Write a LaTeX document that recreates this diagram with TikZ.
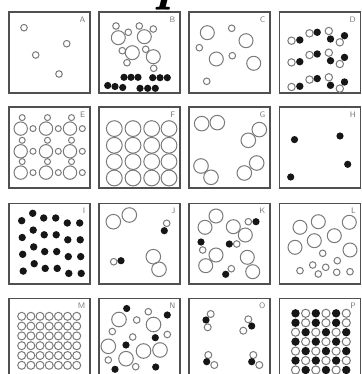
\documentclass[tikz,border=0pt]{standalone}
\usepackage{xcolor}
\usepackage{tikz}
\definecolor{frameGrey}{HTML}{505050}
\definecolor{atomGrey}{HTML}{7A7A7A}
\definecolor{dotBlack}{HTML}{161616}
\definecolor{labelGrey}{HTML}{7A7A7A}

\begin{document}
\begin{tikzpicture}[
    x=1pt, y=-1pt,
    panel/.style={draw=frameGrey, line width=1.6pt},
    lbl/.style={anchor=north east, inner sep=0pt, text=labelGrey, font=\sffamily\fontsize{8}{8}\selectfont},
    sm/.style={draw=atomGrey, line width=1pt, radius=3.3pt},
    lg/.style={sm, radius=7pt},
    bk/.style={fill=dotBlack, radius=3.6pt}
]
\useasboundingbox (0,0) rectangle (361,374);

% cut-off caption letter
\node[anchor=base, inner sep=0pt, font=\bfseries\itshape\fontsize{60}{60}\selectfont] (capP) at (172,-1) {p};

% Frames and letters
\foreach \tag/\px/\py in {A/9/12.3, B/99/12.3, C/189/12.3, D/279.5/12.3,
                          E/9/107.3, F/99/107.3, G/189/107.3, H/279.5/107.3,
                          I/9/203.3, J/99/203.3, K/189/203.3, L/279.5/203.3,
                          M/9/298.3, N/99/298.3, O/189/298.3, P/279.5/298.3}
{
  \draw[panel] (\px,\py) rectangle ++(81,80.5);
  \node[lbl] (lbl\tag) at (\px+76.5,\py+4.5) {\tag};
}

% A
\begin{scope}[shift={(9,12.3)}]
  \foreach \x/\y in {15/15.4, 57.7/31.4, 26.7/42.7, 50/61.7} \draw[sm] (\x,\y) circle;
\end{scope}

% B
\begin{scope}[shift={(99,12.3)}]
  \foreach \x/\y in {19.3/25.4, 45.3/24.4, 33.3/40.4, 54.3/44.4} \draw[lg] (\x,\y) circle;
  \foreach \x/\y in {17/13.7, 29.3/20, 40.3/13.7, 54.3/16.7, 23.3/38.4, 28/50.4, 46.7/37, 54.7/56}
    \draw[sm] (\x,\y) circle;
  \foreach \x/\y in {25/65, 32/65, 39/65, 53.7/65.4, 61/65.4, 68.3/65.4,
                     8.7/73.2, 16/74.2, 23.7/75.2, 41/76, 48.7/76, 56.3/76}
    \fill[bk] (\x,\y) circle;
\end{scope}

% C
\begin{scope}[shift={(189,12.3)}]
  \foreach \x/\y in {18.3/20.4, 57/28.4, 27.3/46.7, 64.7/51} \draw[lg] (\x,\y) circle;
  \foreach \x/\y in {42.7/16, 10.3/35.4, 43.3/43.4, 17.7/69} \draw[sm] (\x,\y) circle;
\end{scope}

% D
\begin{scope}[shift={(279.5,12.3)}]
  \foreach \dy in {0, 21.7, 46.3} {
    \foreach \x/\y in {12/28.4, 30/21, 49.3/18.7, 60.3/30} \draw[sm, radius=3.7pt] (\x,\y+\dy) circle;
    \foreach \x/\y in {20.3/27.7, 37.7/20, 51/26.7, 65/23.4} \fill[bk, radius=3.7pt] (\x,\y+\dy) circle;
  }
\end{scope}

% E
\begin{scope}[shift={(9,107.3)}]
  \foreach \cx in {11.7, 37, 61}
    \foreach \cy in {21.3, 44, 65.3} {
      \draw[lg, radius=6.7pt] (\cx,\cy) circle;
      \draw[sm, radius=3pt] (\cx+1.5,\cy-11) circle;
      \draw[sm, radius=3pt] (\cx+12.3,\cy) circle;
    }
\end{scope}

% F
\begin{scope}[shift={(99,107.3)}]
  \foreach \cx in {15.3, 34, 52.7, 70}
    \foreach \cy in {21.3, 38, 54.3, 70.7}
      \draw[lg, radius=7.9pt] (\cx,\cy) circle;
\end{scope}

% G
\begin{scope}[shift={(189,107.3)}]
  \foreach \x/\y in {12.7/16.3, 28.3/15.3, 70.3/22.3, 59.3/33, 12/58.7, 22/70, 67.7/55.7, 55.3/65.7}
    \draw[lg, radius=7.3pt] (\x,\y) circle;
\end{scope}

% H
\begin{scope}[shift={(279.5,107.3)}]
  \foreach \x/\y in {15/32.3, 60.5/28.7, 68.2/57, 11.2/69.7} \fill[bk] (\x,\y) circle;
\end{scope}

% I
\begin{scope}[shift={(9,203.3)}]
  \foreach \r in {0,...,3}
    \foreach \x/\y in {12.7/17.4, 23.7/10, 34.7/14.7, 46.7/14.7, 58.3/19.7, 70.7/19.7}
      \fill[bk, radius=3.7pt] (\x+0.5*\r,\y+16.8*\r) circle;
\end{scope}

% J
\begin{scope}[shift={(99,203.3)}]
  \foreach \x/\y in {14.3/18.4, 30.3/11.7, 54.3/53.4, 60/66} \draw[lg, radius=7.3pt] (\x,\y) circle;
  \foreach \x/\y in {67.7/20, 14.7/58.4} \draw[sm] (\x,\y) circle;
  \foreach \x/\y in {65.3/27.4, 22/57.4} \fill[bk] (\x,\y) circle;
\end{scope}

% K
\begin{scope}[shift={(189,203.3)}]
  \foreach \x/\y in {16/24, 27/12.7, 44.3/23.4, 56.3/31.7, 27/51.7, 16.7/62.4, 58.3/54, 63.7/68.4}
    \draw[lg] (\x,\y) circle;
  \foreach \x/\y in {59.3/18.4, 13.7/46.7, 47.7/40.7, 42.3/65.4} \draw[sm] (\x,\y) circle;
  \foreach \x/\y in {67/18.4, 12/38.7, 40.3/40.7, 36.7/71} \fill[bk] (\x,\y) circle;
\end{scope}

% L
\begin{scope}[shift={(279.5,203.3)}]
  \foreach \x/\y in {20.5/24, 38.8/18.4, 69.8/19, 34.8/37.4, 54.8/32.4, 15.5/44, 70.5/46.7}
    \draw[lg] (\x,\y) circle;
  \foreach \x/\y in {43.2/50, 57.8/57.4, 20.5/67.4, 33.2/61.7, 46.2/64, 38.8/70.7, 57.2/69, 70.5/68.4}
    \draw[sm] (\x,\y) circle;
\end{scope}

% M
\begin{scope}[shift={(9,298.3)}]
  \foreach \i in {0,...,6}
    \foreach \j in {0,...,5}
      \draw[sm, radius=4pt] (12.7+9.17*\i,18+9.8*\j) circle;
\end{scope}

% N
\begin{scope}[shift={(99,298.3)}]
  \foreach \x/\y in {20/21.2, 54.5/26.2, 9.3/48, 27/60.4, 44.5/52.7, 61/51.7} \draw[lg, radius=7.3pt] (\x,\y) circle;
  \foreach \x/\y in {37.7/21.7, 49.3/13.4, 13.3/33.2, 33.7/38.7, 68.3/36.2, 9.3/61.7, 36.7/68.4}
    \draw[sm] (\x,\y) circle;
  \foreach \x/\y in {27.7/10.2, 68.3/16.7, 56.3/39.4, 27/46.7, 16/71, 56.7/68.7} \fill[bk] (\x,\y) circle;
\end{scope}

% O
\begin{scope}[shift={(189,298.3)}]
  \foreach \x/\y in {21.7/15.7, 18.7/29, 59.3/21, 54.3/32.4, 19.3/56.7, 25.3/66.7, 64.3/56.7, 70.3/66.7}
    \draw[sm, radius=3.5pt] (\x,\y) circle;
  \foreach \x/\y in {17/21.7, 62.7/27.7, 17.7/63.4, 62.7/63.4} \fill[bk] (\x,\y) circle;
\end{scope}

% P
\begin{scope}[shift={(279.5,298.3)}]
  \foreach \j/\s in {0/0, 1/0, 2/1, 3/0, 4/1, 5/0, 6/1}
    \foreach \i in {0,...,5} {
      \pgfmathtruncatemacro\odd{mod(\i+\s,2)}
      \ifnum\odd=0
        \fill[bk, radius=4.2pt] (16+10.15*\i,15+9.45*\j) circle;
      \else
        \draw[sm, radius=4.1pt] (16+10.15*\i,15+9.45*\j) circle;
      \fi
    }
\end{scope}
\end{tikzpicture}
\end{document}
